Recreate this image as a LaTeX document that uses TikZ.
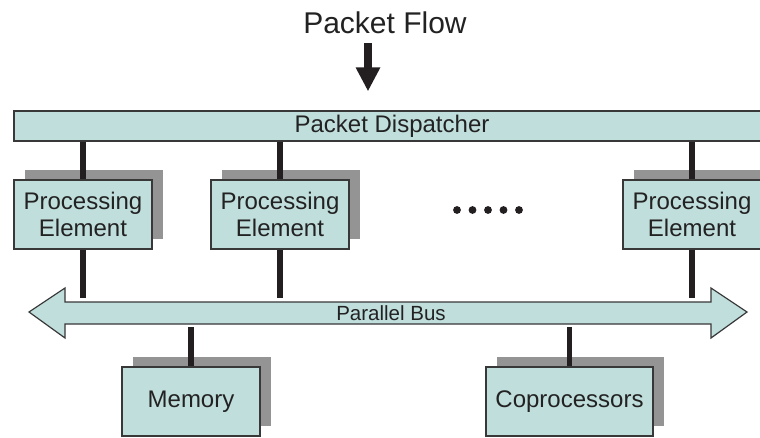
\documentclass[tikz,border=0pt]{standalone}
\usepackage{fontspec}
\setmainfont{Liberation Sans}
\usetikzlibrary{shadows,arrows.meta,calc}
\definecolor{boxfill}{HTML}{C0DEDC}
\definecolor{boxline}{HTML}{383838}
\definecolor{shadowgray}{HTML}{949494}
\definecolor{linkcol}{HTML}{231F20}
\definecolor{txt}{HTML}{222222}
\tikzset{
  unit/.style={draw=boxline, line width=1.3pt, fill=boxfill, text=txt,
    inner sep=0pt, minimum height=69pt, align=center,
    font=\fontsize{24}{27}\selectfont,
    drop shadow={shadow xshift=11pt, shadow yshift=10pt, fill=shadowgray, opacity=1}},
  bar/.style={draw=boxline, line width=1.3pt, fill=boxfill, text=txt,
    inner sep=0pt, minimum height=30pt, font=\fontsize{24}{26}\selectfont},
  link/.style={draw=linkcol, line width=5.5pt},
  busline/.style={draw=boxline, line width=1.2pt, fill=boxfill, line join=miter},
}
\begin{document}
\begin{tikzpicture}[x=1pt,y=-1pt]
\useasboundingbox (0,0) rectangle (760,437);

% title and incoming flow arrow
\node[text=txt, font=\fontsize{30}{31}\selectfont] (flow) at (385,23) {Packet Flow};
\coordinate (flowtop) at (368,43);

% dispatcher bar (runs past the right edge)
\node[bar, minimum width=766pt] (disp) at (397,126) {\hspace*{-10pt}Packet Dispatcher};
\draw[linkcol, line width=8pt, -{Triangle[width=23pt,length=24pt]}]
  (flowtop) -- ([yshift=19pt]flowtop |- disp.north);

% processing elements
\node[unit, minimum width=138pt] (pe1) at (83,214.5) {Processing\\Element};
\node[unit, minimum width=138pt] (pe2) at (280,214.5) {Processing\\Element};
\node[unit, minimum width=138pt] (pe3) at (692,214.5) {Processing\\Element};

% ellipsis between elements
\foreach \dx in {457,472.5,488,503.5,519}
  \fill[linkcol] (\dx,210) circle (3.9pt);

% parallel bus (double-headed arrow)
\path[busline] (29,312) -- (65,288) -- (65,302) -- (711,302) -- (711,288)
  -- (747,312) -- (711,338) -- (711,324) -- (65,324) -- (65,338) -- cycle;
\node[inner sep=0pt, minimum width=646pt, minimum height=22pt, text=txt,
  font=\fontsize{20.5}{22}\selectfont] (bus) at (391,313) {Parallel Bus};

% memory and coprocessors
\node[unit, minimum width=138pt] (mem) at (191,401.5) {Memory};
\node[unit, minimum width=167pt] (cop) at (569.5,401.5) {Coprocessors};

% dispatcher to elements
\foreach \n in {pe1,pe2,pe3}
  \draw[link] (disp.south -| \n.north) -- (\n.north);
% elements to bus
\foreach \n in {pe1,pe2,pe3}
  \draw[link] (\n.south) -- ([yshift=4pt]\n.south |- bus.north);
% bus to memory and coprocessors
\draw[link] ([yshift=-3pt]mem.north |- bus.south) -- (mem.north);
\draw[link] ([yshift=-3pt]cop.north |- bus.south) -- (cop.north);
\end{tikzpicture}
\end{document}
